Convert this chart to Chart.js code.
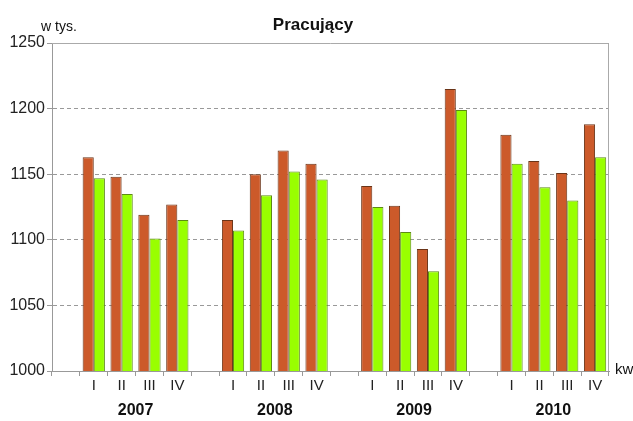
<!DOCTYPE html>
<html>
<head>
<meta charset="utf-8">
<script src="https://cdn.jsdelivr.net/npm/chart.js@4/dist/chart.umd.min.js"></script>
<style>
  html, body { margin: 0; padding: 0; background: #fff; }
  #wrap { width: 633px; height: 421px; position: relative; }
</style>
</head>
<body>
<div id="wrap"><canvas id="chart"></canvas></div>
<script>
// kwartały z pustymi miejscami między latami
const kwartaly = ['', 'I', 'II', 'III', 'IV', '', 'I', 'II', 'III', 'IV', '', 'I', 'II', 'III', 'IV', '', 'I', 'II', 'III', 'IV'];
const lata = ['2007', '2008', '2009', '2010'];
const seria1 = [null, 1163, 1148, 1119, 1127, null, 1115, 1150, 1168, 1158, null, 1141, 1126, 1093, 1215, null, 1180, 1160, 1151, 1188];
const seria2 = [null, 1147, 1135, 1101, 1115, null, 1107, 1134, 1152, 1146, null, 1125, 1106, 1076, 1199, null, 1158, 1140, 1130, 1163];
const yTicks = [1000, 1050, 1100, 1150, 1200, 1250];

const FONT = "'Liberation Sans', Arial, sans-serif";

// napisy dookoła wykresu: tytuł, jednostka, lata, "kw"
const napisy = {
  id: 'napisy',
  afterDraw(chart) {
    const ctx = chart.ctx;
    const x = chart.scales.x;
    const a = chart.chartArea;
    ctx.save();
    // ramka obszaru wykresu
    ctx.strokeStyle = '#aaa';
    ctx.lineWidth = 1;
    ctx.beginPath();
    ctx.moveTo(a.left, a.top + 0.5);
    ctx.lineTo(a.right - 0.5, a.top + 0.5);
    ctx.lineTo(a.right - 0.5, a.bottom);
    ctx.stroke();

    ctx.fillStyle = '#111';
    ctx.textAlign = 'center';
    ctx.textBaseline = 'middle';
    ctx.font = 'bold 17px ' + FONT;
    ctx.fillText('Pracujący', 313, 25);

    ctx.font = '14px ' + FONT;
    ctx.fillText('w tys.', 59, 27);

    ctx.textAlign = 'left';
    ctx.font = '15px ' + FONT;
    ctx.fillText('kw', 615, 370);

    ctx.textAlign = 'center';
    ctx.font = 'bold 16px ' + FONT;
    lata.forEach((rok, i) => {
      const p1 = x.getPixelForValue(1 + i * 5 + 1);
      const p2 = x.getPixelForValue(1 + i * 5 + 2);
      ctx.fillText(rok, (p1 + p2) / 2, 411);
    });
    ctx.restore();
  }
};

new Chart(document.getElementById('chart'), {
  type: 'bar',
  data: {
    labels: kwartaly,
    datasets: [
      {
        data: seria1,
        backgroundColor: '#CC5A2A',
        borderColor: '#6a3418',
        borderWidth: 1,
        categoryPercentage: 0.8,
        barPercentage: 1.0
      },
      {
        data: seria2,
        backgroundColor: '#99FF00',
        borderColor: '#5d8a14',
        borderWidth: 1,
        categoryPercentage: 0.8,
        barPercentage: 1.0
      }
    ]
  },
  options: {
    responsive: true,
    maintainAspectRatio: false,
    animation: false,
    layout: { padding: { top: 43, right: 24, bottom: 0, left: 0 } },
    plugins: {
      legend: { display: false },
      tooltip: { enabled: false }
    },
    scales: {
      x: {
        grid: { drawOnChartArea: false, drawTicks: true, tickLength: 5, color: '#999', offset: true },
        border: { color: '#999' },
        ticks: { color: '#222', font: { family: FONT, size: 15 }, padding: 1, maxRotation: 0, autoSkip: false },
        afterFit(s) { s.height = 50; }
      },
      y: {
        min: 1000,
        max: 1250,
        afterBuildTicks(s) { s.ticks = yTicks.map(v => ({ value: v })); },
        grid: { color: '#999', tickLength: 5, tickBorderDash: [] },
        border: { color: '#999', dash: [4, 3] },
        ticks: { color: '#222', font: { family: FONT, size: 16 }, padding: 2, callback: v => String(v) },
        afterFit(s) { s.width = 52; }
      }
    }
  },
  plugins: [napisy]
});
</script>
</body>
</html>
